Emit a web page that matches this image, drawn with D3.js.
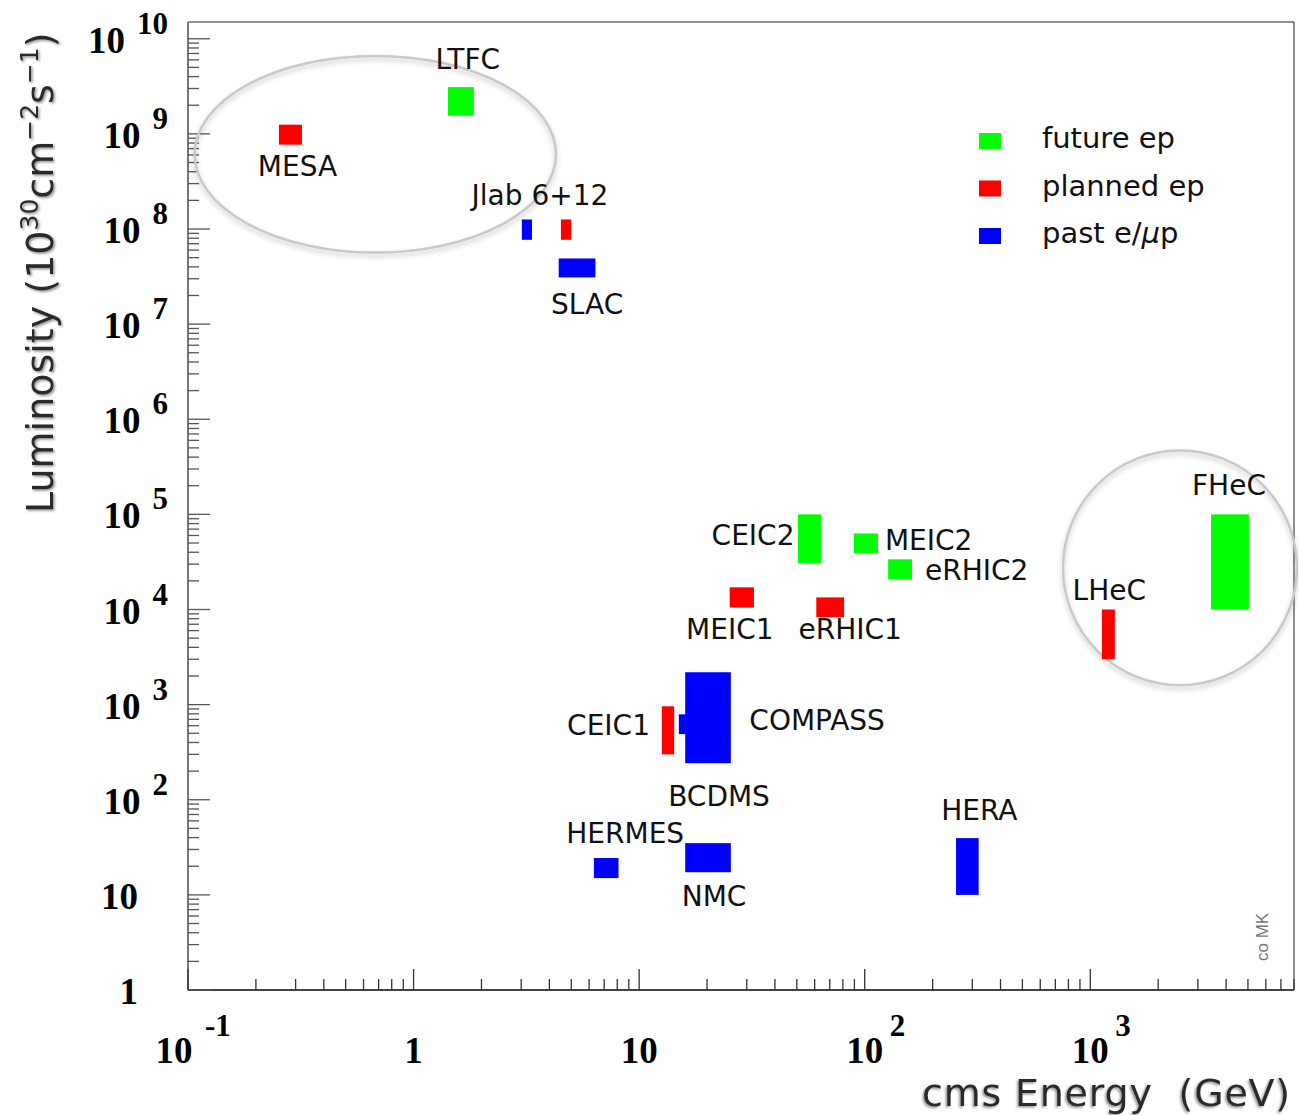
<!DOCTYPE html>
<html lang="en">
<head>
<meta charset="UTF-8">
<title>Luminosity vs cms Energy</title>
<script src="https://d3js.org/d3.v7.min.js"></script>
<style>
  body { margin: 0; background: #fff; }
  svg { display: block; }
  .lbl { font-family: "DejaVu Sans", sans-serif; font-size: 28px; fill: #111; }
  .leg { font-family: "DejaVu Sans", sans-serif; font-size: 29px; fill: #111; }
  .tk { font-family: "Liberation Serif", serif; font-weight: bold; font-size: 37px; fill: #000; }
  .title { font-family: "DejaVu Sans", sans-serif; font-size: 38px; fill: #2a2a2a; }
</style>
</head>
<body>
<script>
// experiments: cms energy range (GeV) and luminosity range (1e30 cm^-2 s^-1)
const names   = ["MESA", "LTFC", "Jlab 6", "Jlab 12", "SLAC", "CEIC2", "MEIC2", "eRHIC2", "MEIC1", "eRHIC1",
                 "CEIC1", "COMPASS", "BCDMS", "HERMES", "NMC", "HERA", "LHeC", "FHeC"];
const kinds   = ["planned", "future", "past", "planned", "past", "future", "future", "future", "planned", "planned",
                 "planned", "past", "past", "past", "past", "past", "planned", "future"];
const eLow    = [0.253, 1.42, 3.02, 4.5, 4.4, 50.6, 89.5, 127, 25.2, 61, 12.6, 15.0, 16.0, 6.3, 16.0, 254, 1125, 3430];
const eHigh   = [0.32, 1.85, 3.35, 5.0, 6.4, 64, 114.5, 162, 32.3, 81, 14.3, 16.1, 25.5, 8.1, 25.5, 320, 1285, 5050];
const lumLow  = [7.7e8, 1.55e9, 7.7e7, 7.7e7, 3.1e7, 3.06e4, 3.9e4, 2.08e4, 1.05e4, 8.3e3, 300, 490, 242, 15, 17.3, 10, 3000, 1e4];
const lumHigh = [1.25e9, 3.1e9, 1.26e8, 1.26e8, 4.9e7, 1e5, 6.3e4, 3.37e4, 1.71e4, 1.34e4, 960, 790, 2190, 24.4, 35, 39.5, 1e4, 1e5];
const labels  = ["MESA", "LTFC", "Jlab 6+12", "", "SLAC", "CEIC2", "MEIC2", "eRHIC2", "MEIC1", "eRHIC1",
                 "CEIC1", "COMPASS", "BCDMS", "HERMES", "NMC", "HERA", "LHeC", "FHeC"];

const kindNames  = ["future", "planned", "past"];
const legendText = ["future ep", "planned ep", "past e/"];

// circled regions (energy range, luminosity range)
const hlE = [[0.107, 4.28], [757, 8240]];
const hlL = [[5.65e7, 6.6e9], [1600, 4.7e5]];

const xDecades = [-1, 0, 1, 2, 3];
const yDecades = [0, 1, 2, 3, 4, 5, 6, 7, 8, 9, 10];

// label placement relative to box centre: [dx, dy, anchor]
const labelPos = [[7, 41, "middle"], [7, -32, "middle"], [13, -25, "middle"], [0, 0, "middle"], [10, 46, "middle"],
  [-15, 6, "end"], [19, 7, "start"], [25, 11, "start"], [-12, 42, "middle"], [20, 32, "middle"],
  [-18, 5, "end"], [67, 6, "start"], [11, 88, "middle"], [19, -25, "middle"], [6, 48, "middle"],
  [12, -46, "middle"], [1, -34, "middle"], [-1, -67, "middle"]];

const W = 1299, H = 1115;
const pLeft = 188, pRight = 1294, pTop = 22, pBottom = 990;

const x = d3.scaleLog().domain([0.1, 8000]).range([pLeft, pRight]);
const y = d3.scaleLog().domain([1, 1.5e10]).range([pBottom, pTop]);
const color = d3.scaleOrdinal().domain(kindNames).range(["#00ff00", "#ff0000", "#0000ff"]);

const svg = d3.select("body").append("svg").attr("width", W).attr("height", H);

const defs = svg.append("defs");
defs.append("filter").attr("id", "soft").attr("x", "-10%").attr("y", "-10%").attr("width", "120%").attr("height", "130%")
  .append("feDropShadow").attr("dx", 0).attr("dy", 3).attr("stdDeviation", 2.5)
  .attr("flood-color", "#000").attr("flood-opacity", 0.22);
defs.append("filter").attr("id", "emboss")
  .append("feDropShadow").attr("dx", -1.5).attr("dy", 1.5).attr("stdDeviation", 0.8)
  .attr("flood-color", "#888").attr("flood-opacity", 0.9);

// frame
svg.append("line").attr("x1", pLeft).attr("x2", pRight).attr("y1", pTop).attr("y2", pTop).attr("stroke", "#222").attr("stroke-width", 1);
svg.append("line").attr("x1", pRight).attr("x2", pRight).attr("y1", pTop).attr("y2", pBottom).attr("stroke", "#222").attr("stroke-width", 1);
svg.append("line").attr("x1", pLeft).attr("x2", pLeft).attr("y1", pTop).attr("y2", pBottom).attr("stroke", "#777").attr("stroke-width", 2);
svg.append("line").attr("x1", pLeft).attr("x2", pRight).attr("y1", pBottom).attr("y2", pBottom).attr("stroke", "#444").attr("stroke-width", 2);

// ticks
const yTicks = [];
yDecades.forEach(n => d3.range(1, 10).forEach(k => { const v = k * Math.pow(10, n); if (v <= 1.5e10) yTicks.push([v, k]); }));
svg.append("g").selectAll("line").data(yTicks).join("line")
  .attr("x1", pLeft).attr("x2", d => pLeft + (d[1] === 1 ? 22 : 11))
  .attr("y1", d => y(d[0])).attr("y2", d => y(d[0]))
  .attr("stroke", "#555").attr("stroke-width", 1.3);

const xTicks = [];
xDecades.forEach(n => d3.range(1, 10).forEach(k => { const v = k * Math.pow(10, n); if (v <= 8000) xTicks.push([v, k]); }));
svg.append("g").selectAll("line").data(xTicks).join("line")
  .attr("x1", d => x(d[0])).attr("x2", d => x(d[0]))
  .attr("y1", pBottom).attr("y2", d => pBottom - (d[1] === 1 ? 21 : 11))
  .attr("stroke", "#333").attr("stroke-width", 1.3);

// y tick labels
yDecades.forEach(n => {
  const ty = y(Math.pow(10, n));
  if (n < 2) {
    svg.append("text").attr("class", "tk").attr("x", 138).attr("y", ty + 14).attr("text-anchor", "end")
      .text(n === 0 ? "1" : "10");
  } else {
    const t = svg.append("text").attr("class", "tk").attr("x", 168).attr("y", ty + 14).attr("text-anchor", "end");
    t.append("tspan").text("10");
    t.append("tspan").attr("dx", 12).attr("dy", -19).style("font-size", "31px").text(n);
  }
});

// x tick labels
xDecades.forEach(n => {
  const tx = x(Math.pow(10, n));
  if (n === 0 || n === 1) {
    svg.append("text").attr("class", "tk").attr("x", tx).attr("y", 1063).attr("text-anchor", "middle")
      .text(n === 0 ? "1" : "10");
  } else {
    const off = n < 0 ? -14 : 0;
    svg.append("text").attr("class", "tk").attr("x", tx + off).attr("y", 1063).attr("text-anchor", "middle").text("10");
    svg.append("text").attr("class", "tk").attr("x", tx + off + (n < 0 ? 31 : 25)).attr("y", 1036)
      .style("font-size", "31px").text(n);
  }
});

// highlight circles
svg.append("g").selectAll("ellipse").data(d3.range(hlE.length)).join("ellipse")
  .attr("cx", i => (x(hlE[i][0]) + x(hlE[i][1])) / 2)
  .attr("cy", i => (y(hlL[i][0]) + y(hlL[i][1])) / 2)
  .attr("rx", i => (x(hlE[i][1]) - x(hlE[i][0])) / 2)
  .attr("ry", i => (y(hlL[i][0]) - y(hlL[i][1])) / 2)
  .attr("fill", "none").attr("stroke", "#c9c9c9").attr("stroke-width", 2.5)
  .attr("filter", "url(#soft)");

// boxes
const idx = d3.range(names.length);
svg.append("g").selectAll("rect").data(idx).join("rect")
  .attr("x", i => x(eLow[i]))
  .attr("width", i => x(eHigh[i]) - x(eLow[i]))
  .attr("y", i => y(lumHigh[i]))
  .attr("height", i => y(lumLow[i]) - y(lumHigh[i]))
  .attr("fill", i => color(kinds[i]));

svg.append("g").selectAll("text").data(idx.filter(i => labels[i])).join("text")
  .attr("class", "lbl")
  .attr("x", i => (x(eLow[i]) + x(eHigh[i])) / 2 + labelPos[i][0])
  .attr("y", i => (y(lumLow[i]) + y(lumHigh[i])) / 2 + labelPos[i][1])
  .attr("text-anchor", i => labelPos[i][2])
  .text(i => labels[i]);

// legend
const leg = svg.append("g").attr("transform", "translate(979,141)");
kindNames.forEach((k, i) => {
  const g = leg.append("g").attr("transform", `translate(0,${i * 47.5})`);
  g.append("rect").attr("x", 0).attr("y", -8).attr("width", 22).attr("height", 16).attr("fill", color(k));
  const t = g.append("text").attr("class", "leg").attr("x", 63).attr("y", 7).text(legendText[i]);
  if (k === "past") {
    t.append("tspan").style("font-style", "italic").text("\u03bc");
    t.append("tspan").text("p");
  }
});

// axis titles
svg.append("text").attr("class", "title").attr("x", 1291).attr("y", 1106).attr("text-anchor", "end")
  .style("letter-spacing", "0.8px")
  .attr("filter", "url(#emboss)").text("cms Energy\u00a0\u00a0(GeV)");

const yt = svg.append("text").attr("class", "title").attr("transform", "translate(53,513) rotate(-90)")
  .attr("filter", "url(#emboss)");
yt.append("tspan").text("Luminosity (10");
yt.append("tspan").attr("dy", -15).style("font-size", "25px").text("30");
yt.append("tspan").attr("dy", 15).text("cm");
yt.append("tspan").attr("dy", -15).style("font-size", "25px").text("\u22122");
yt.append("tspan").attr("dy", 15).text("s");
yt.append("tspan").attr("dy", -15).style("font-size", "25px").text("\u22121");
yt.append("tspan").attr("dy", 15).text(")");

// credit
svg.append("text").attr("transform", "translate(1268,961) rotate(-90)")
  .style("font-family", "Liberation Sans, sans-serif").style("font-size", "17px").style("fill", "#777")
  .text("co MK");
</script>
</body>
</html>
